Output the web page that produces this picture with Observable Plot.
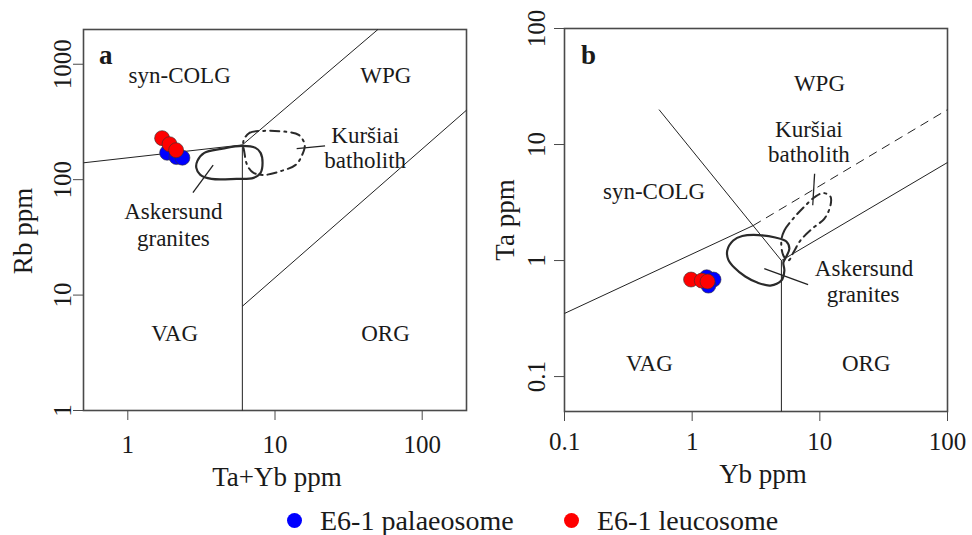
<!DOCTYPE html>
<html>
<head>
<meta charset="utf-8">
<script src="https://cdn.jsdelivr.net/npm/d3@7"></script>
<script src="https://cdn.jsdelivr.net/npm/@observablehq/plot@0.6"></script>
<style>
  html, body { margin: 0; padding: 0; background: #fff; }
  #wrap { position: relative; width: 972px; height: 535px; overflow: hidden; font-family: "Liberation Serif", "Times New Roman", serif; color: #1a1a1a; }
  #pa, #pb { position: absolute; top: 0; }
  #pa { left: 0; } #pb { left: 486px; }
  .leg { position: absolute; top: 503px; font-size: 28px; line-height: 36px; white-space: nowrap; }
  .dot { display: inline-block; width: 15px; height: 15px; border-radius: 50%; vertical-align: middle; margin-right: 18px; position: relative; top: -3px; }
</style>
</head>
<body>
<div id="wrap">
  <div id="pa"></div>
  <div id="pb"></div>
  <div class="leg" id="leg1" style="left:287px"><span class="dot" style="background:#0000ff"></span><span id="lt1"></span></div>
  <div class="leg" id="leg2" style="left:564px"><span class="dot" style="background:#ff0000"></span><span id="lt2"></span></div>
</div>
<script>
// ---------- data ----------
const seriesNames = ["E6-1 palaeosome", "E6-1 leucosome"];

// Panel a: Rb vs Ta+Yb
const aXTicks = [1, 10, 100];
const aYTicks = [1, 10, 100, 1000];
const aPalX = [1.85, 2.14, 2.35];
const aPalY = [171, 157, 155];
const aLeuX = [1.71, 1.92, 2.13];
const aLeuY = [229, 203, 180];
const aBoundaries = [
  [0.5, 140, 6, 200],
  [6, 200, 50, 2000],
  [6, 1, 6, 200],
  [6, 8, 200, 400]
];
const aAskersund = [[2.97,145.5],[3.31,170.6],[4.33,184.8],[6.01,196],[7.37,188.5],[7.98,170.6],[8.23,139.8],[7.98,114.5],[7.15,103.7],[5.47,101.6],[3.70,101.6],[3.11,110],[2.92,126.5]];
const aKursiai = [[6.11,216.7],[6.71,254.3],[8.36,264.6],[12.0,259.4],[14.49,244.4],[15.92,200.1],[15.19,160.7],[13.82,134.3],[11.09,119.2],[8.49,110],[7.15,114.5],[6.51,131.7],[6.20,170.6]];
const aLeaders = [[2.77, 77.3, 3.80, 133.5], [14.04, 185.9, 21.89, 196]];
const aLabels = [
  {t: "syn-COLG", x: 2.25, y: 693},
  {t: "WPG", x: 56.7, y: 693},
  {t: "Kuršiai", x: 41, y: 209.6},
  {t: "batholith", x: 41, y: 127.3},
  {t: "Askersund", x: 2.04, y: 45.5},
  {t: "granites", x: 2.04, y: 26.7},
  {t: "VAG", x: 2.08, y: 4.02},
  {t: "ORG", x: 56.3, y: 4.02}
];

// Panel b: Ta vs Yb
const bXTicks = [0.1, 1, 10, 100];
const bYTicks = [0.1, 1, 10, 100];
const bPalX = [1.30, 1.47, 1.34];
const bPalY = [0.718, 0.686, 0.608];
const bLeuX = [0.98, 1.19, 1.32];
const bLeuY = [0.686, 0.672, 0.66];
const bSolid = [
  [0.1, 0.35, 3, 2],
  [0.55, 20, 5, 1],
  [5, 0.05, 5, 1],
  [5, 1, 100, 7]
];
const bDashed = [[3, 2, 100, 20]];
const bAskersund = [[1.883,1.219],[2.098,1.487],[2.469,1.626],[3.296,1.659],[4.482,1.579],[5.467,1.458],[5.773,1.269],[5.467,1.083],[5.18,0.961],[5.275,0.82],[4.995,0.672],[4.095,0.609],[3.237,0.646],[2.606,0.728],[2.136,0.870],[1.918,1.020]];
const bKursiai = [[4.995,1.487],[5.275,1.814],[6.095,2.256],[7.57,2.921],[9.24,3.562],[10.67,3.818],[12.11,3.562],[12.11,2.979],[10.87,2.302],[8.75,1.888],[7.04,1.487],[6.205,1.172],[5.669,1.0],[5.18,1.104]];
const bLeaders = [[9.1, 5.6, 8.8, 3.0], [3.67, 0.853, 8.09, 0.621]];
const bLabels = [
  {t: "WPG", x: 9.93, y: 28.8},
  {t: "Kuršiai", x: 8.21, y: 11.56},
  {t: "batholith", x: 8.21, y: 7.03},
  {t: "syn-COLG", x: 0.503, y: 3.40},
  {t: "Askersund", x: 22.2, y: 0.743},
  {t: "granites", x: 21.8, y: 0.437},
  {t: "VAG", x: 0.462, y: 0.1127},
  {t: "ORG", x: 23.1, y: 0.1127}
];

// ---------- drawing ----------
const FONT = "Liberation Serif, Times New Roman, serif";
const INK = "#1a1a1a";
const FRAME = "#4a4a4a";
const zip = (xs, ys) => xs.map((x, i) => ({x, y: ys[i]}));
const seg = (arr) => arr.map(([x1, y1, x2, y2]) => ({x1, y1, x2, y2}));

function panel(o) {
  return Plot.plot({
    width: 486, height: 500,
    marginLeft: o.ml, marginRight: o.mr, marginTop: o.mt, marginBottom: 500 - o.bottom,
    style: {fontFamily: FONT, background: "transparent", color: FRAME},
    x: {type: "log", domain: o.xd, ticks: o.xt, tickSize: 10, tickFormat: () => "", label: null},
    y: {type: "log", domain: o.yd, ticks: o.yt, tickSize: 10, tickFormat: () => "", label: null},
    marks: [
      Plot.frame({stroke: FRAME, strokeWidth: 1.6}),
      Plot.link(seg(o.solid), {x1: "x1", y1: "y1", x2: "x2", y2: "y2", stroke: "#222", strokeWidth: 1}),
      Plot.link(seg(o.dashed || []), {x1: "x1", y1: "y1", x2: "x2", y2: "y2", stroke: "#222", strokeWidth: 1, strokeDasharray: "9,6"}),
      Plot.link(seg(o.leaders), {x1: "x1", y1: "y1", x2: "x2", y2: "y2", stroke: "#222", strokeWidth: 1.3}),
      Plot.line(o.kur, {x: d => d[0], y: d => d[1], curve: "catmull-rom-closed", stroke: "#2a2a2a", strokeWidth: 2, strokeDasharray: "9,5,2,5"}),
      Plot.line(o.ask, {x: d => d[0], y: d => d[1], curve: "catmull-rom-closed", stroke: "#2a2a2a", strokeWidth: 2.2}),
      Plot.dot(zip(o.palX, o.palY), {x: "x", y: "y", r: 7.5, fill: "#0000ff", stroke: "#333", strokeWidth: 0.6}),
      Plot.dot(zip(o.leuX, o.leuY), {x: "x", y: "y", r: 7.5, fill: "#ff0000", stroke: "#333", strokeWidth: 0.6}),
      Plot.text(o.labels, {x: "x", y: "y", text: "t", fontSize: 23, fill: INK, lineAnchor: "bottom", textAnchor: "middle"}),
      Plot.text([o.letter], {x: o.letterX, y: o.letterY, fontSize: 27, fontWeight: "bold", fill: INK, textAnchor: "start", lineAnchor: "bottom"}),
      Plot.text(o.xt, {x: d => d, text: d => String(d), frameAnchor: "bottom", dy: o.xtdy, fontSize: 25, fill: INK, lineAnchor: "bottom"}),
      Plot.text(o.yt, {y: d => d, text: d => String(d), frameAnchor: "left", dx: o.ytdx, rotate: -90, fontSize: 25, fill: INK, lineAnchor: "bottom", textAnchor: "middle"}),
      Plot.text([o.xlab], {frameAnchor: "bottom", dx: o.xldx, dy: o.xldy, fontSize: 27, fill: INK, lineAnchor: "bottom"}),
      Plot.text([o.ylab], {frameAnchor: "left", dx: o.yldx, dy: o.yldy, rotate: -90, fontSize: 27, fill: INK, lineAnchor: "bottom", textAnchor: "middle"})
    ]
  });
}

const A = panel({
  ml: 83, mr: 20, mt: 29, bottom: 410,
  xd: [0.5, 200], yd: [1, 2000], xt: aXTicks, yt: aYTicks,
  solid: aBoundaries, leaders: aLeaders, ask: aAskersund, kur: aKursiai,
  palX: aPalX, palY: aPalY, leuX: aLeuX, leuY: aLeuY, labels: aLabels,
  letter: "a", letterX: 0.637, letterY: 1000,
  xtdy: 42, ytdx: -13, xlab: "Ta+Yb ppm", xldx: 2, xldy: 75, ylab: "Rb ppm", yldx: -52, yldy: 11
});
const B = panel({
  ml: 78, mr: 25, mt: 28, bottom: 411,
  xd: [0.1, 100], yd: [0.05, 100], xt: bXTicks, yt: bYTicks,
  solid: bSolid, dashed: bDashed, leaders: bLeaders, ask: bAskersund, kur: bKursiai,
  palX: bPalX, palY: bPalY, leuX: bLeuX, leuY: bLeuY, labels: bLabels,
  letter: "b", letterX: 0.1345, letterY: 49.6,
  xtdy: 38, ytdx: -20, xlab: "Yb ppm", xldx: 7, xldy: 71, ylab: "Ta ppm", yldx: -51, yldy: 0
});
document.getElementById("pa").appendChild(A);
document.getElementById("pb").appendChild(B);
document.getElementById("lt1").textContent = seriesNames[0];
document.getElementById("lt2").textContent = seriesNames[1];
</script>
</body>
</html>
